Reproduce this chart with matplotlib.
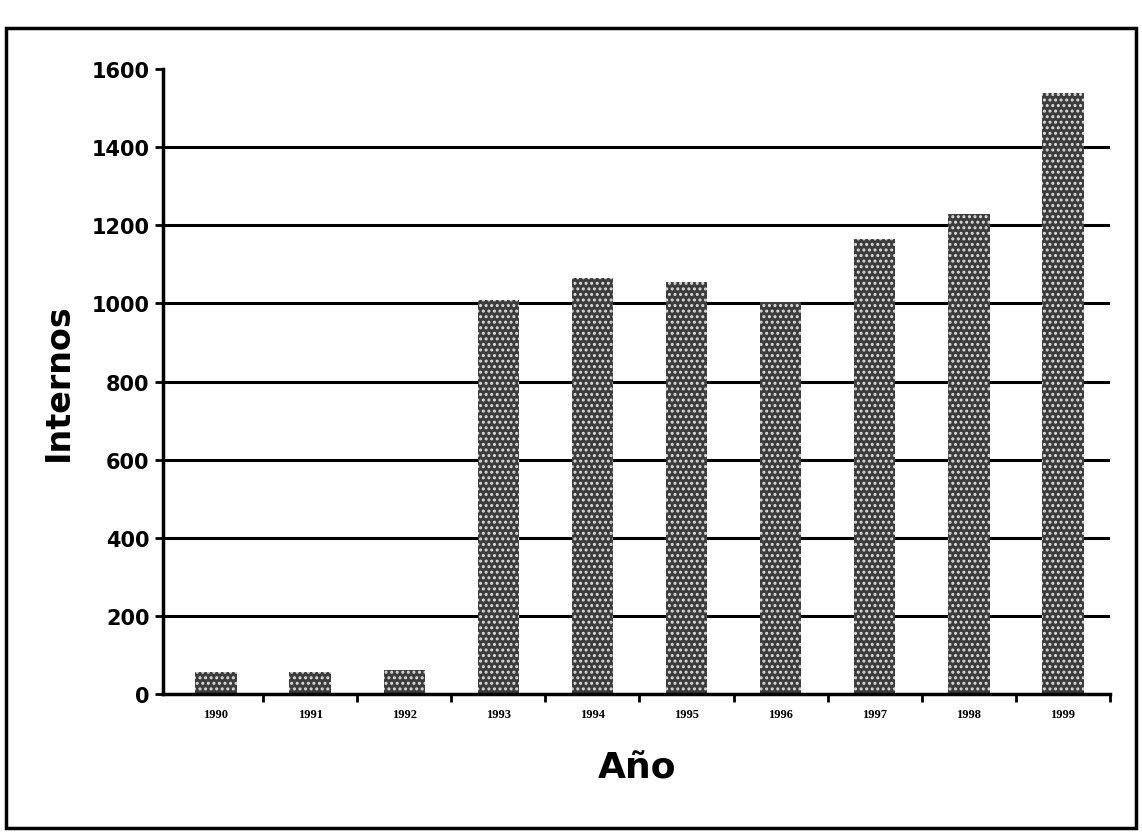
import matplotlib
matplotlib.use("Agg")
import matplotlib.pyplot as plt
from matplotlib.patches import Rectangle

years = ["1990", "1991", "1992", "1993", "1994", "1995", "1996", "1997", "1998", "1999"]
internos = [55, 55, 60, 1010, 1065, 1055, 1005, 1165, 1230, 1540]
yticks = [0, 200, 400, 600, 800, 1000, 1200, 1400, 1600]

plt.rcParams['hatch.color'] = 'white'
plt.rcParams['hatch.linewidth'] = 1.4

fig = plt.figure(figsize=(11.42, 8.37), dpi=100)
fig.patch.set_facecolor('white')
ax = fig.add_axes([0.143, 0.170, 0.829, 0.746])

x = list(range(len(years)))
for yv in yticks[1:-1]:
    ax.axhline(yv, color='black', lw=2.2, zorder=1)
ax.bar(x, internos, width=0.44, color='#3c3c3c', edgecolor='#dddddd',
       hatch='...', linewidth=0, zorder=2)

ax.set_ylim(0, 1600)
ax.set_xlim(-0.56, 9.33)
ax.set_yticks(yticks)
ax.set_yticklabels([str(v) for v in yticks], fontsize=15, fontweight='bold')
ax.set_xticks(x)
ax.set_xticklabels(years, fontsize=9, fontweight='bold', family='Liberation Serif')
ax.tick_params(axis='x', length=0, pad=10)
ax.set_xticks([i + 0.5 for i in range(0, 10)], minor=True)
ax.tick_params(axis='x', which='minor', length=6, width=2, direction='out')
ax.tick_params(axis='y', length=6, width=2, direction='out', pad=4)

for s in ['top', 'right']:
    ax.spines[s].set_visible(False)
ax.spines['left'].set_linewidth(2.5)
ax.spines['bottom'].set_linewidth(2.5)

ax.set_ylabel("Internos", fontsize=24, fontweight='bold', labelpad=12)
ax.set_xlabel("Año", fontsize=26, fontweight='semibold', labelpad=22)

fig.patches.append(Rectangle((0.005, 0.01), 0.99, 0.955, transform=fig.transFigure,
                             fill=False, edgecolor='black', lw=2.5))

fig.savefig("out.png", dpi=100)
